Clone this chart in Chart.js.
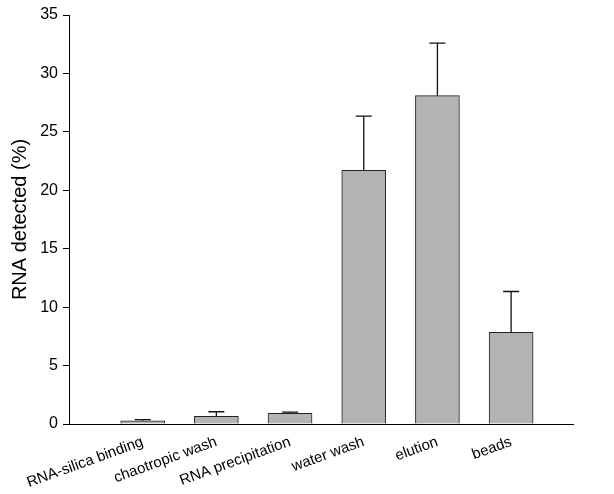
<!DOCTYPE html>
<html>
<head>
<meta charset="utf-8">
<script src="https://cdn.jsdelivr.net/npm/chart.js@4/dist/chart.umd.min.js"></script>
<style>
  body { margin: 0; background: #fff; }
  canvas { display: block; }
</style>
</head>
<body>
<canvas id="rnaChart" width="614" height="494"></canvas>
<script>
const categories = ['RNA-silica binding', 'chaotropic wash', 'RNA precipitation', 'water wash', 'elution', 'beads'];
const detected = [0.28, 0.66, 0.91, 21.7, 28.1, 7.84];
const errors = [0.09, 0.39, 0.1, 4.65, 4.5, 3.5];
const yTicks = [0, 5, 10, 15, 20, 25, 30, 35];

const FONT = 'Liberation Sans, Arial, sans-serif';

// upper error bars, drawn on top of the bars
const errorBars = {
  id: 'errorBars',
  afterDatasetsDraw(chart) {
    const ctx = chart.ctx;
    const meta = chart.getDatasetMeta(0);
    const y = chart.scales.y;
    ctx.save();
    ctx.strokeStyle = '#111';
    ctx.lineWidth = 1.3;
    meta.data.forEach((bar, i) => {
      const top = y.getPixelForValue(detected[i]);
      const cap = y.getPixelForValue(detected[i] + errors[i]);
      ctx.beginPath();
      ctx.moveTo(bar.x, top);
      ctx.lineTo(bar.x, cap);
      ctx.moveTo(bar.x - 8, cap);
      ctx.lineTo(bar.x + 8, cap);
      ctx.stroke();
    });
    ctx.restore();
  }
};

new Chart(document.getElementById('rnaChart'), {
  type: 'bar',
  data: {
    datasets: [{
      data: detected.map((v, i) => ({x: i + 1, y: v})),
      backgroundColor: '#b3b3b3',
      borderColor: '#222',
      borderWidth: 1,
      barThickness: 44
    }]
  },
  options: {
    responsive: false,
    animation: false,
    layout: {padding: {left: 0, top: 15, right: 41, bottom: 0}},
    plugins: {legend: {display: false}, tooltip: {enabled: false}},
    scales: {
      x: {
        type: 'linear',
        offset: false,
        min: 0,
        max: 6.84,
        afterBuildTicks: axis => { axis.ticks = categories.map((c, i) => ({value: i + 1})); },
        afterFit: scale => { scale.height = 70; },
        ticks: {
          autoSkip: false,
          minRotation: 20,
          maxRotation: 20,
          padding: 9,
          color: '#000',
          font: {family: FONT, size: 15},
          callback: v => categories[v - 1]
        },
        grid: {display: false, drawTicks: false, offset: false},
        border: {display: true, color: '#000', width: 1}
      },
      y: {
        min: 0,
        max: 35,
        afterBuildTicks: axis => { axis.ticks = yTicks.map(v => ({value: v})); },
        afterFit: scale => { scale.width = 69; },
        ticks: {
          color: '#000',
          padding: 5,
          font: {family: FONT, size: 16}
        },
        grid: {drawOnChartArea: false, drawTicks: true, tickLength: 6, color: '#000'},
        border: {display: true, color: '#000', width: 1},
        title: {
          display: true,
          text: 'RNA detected (%)',
          color: '#000',
          font: {family: FONT, size: 20},
          padding: {top: 8, bottom: 0}
        }
      }
    }
  },
  plugins: [errorBars]
});
</script>
</body>
</html>
